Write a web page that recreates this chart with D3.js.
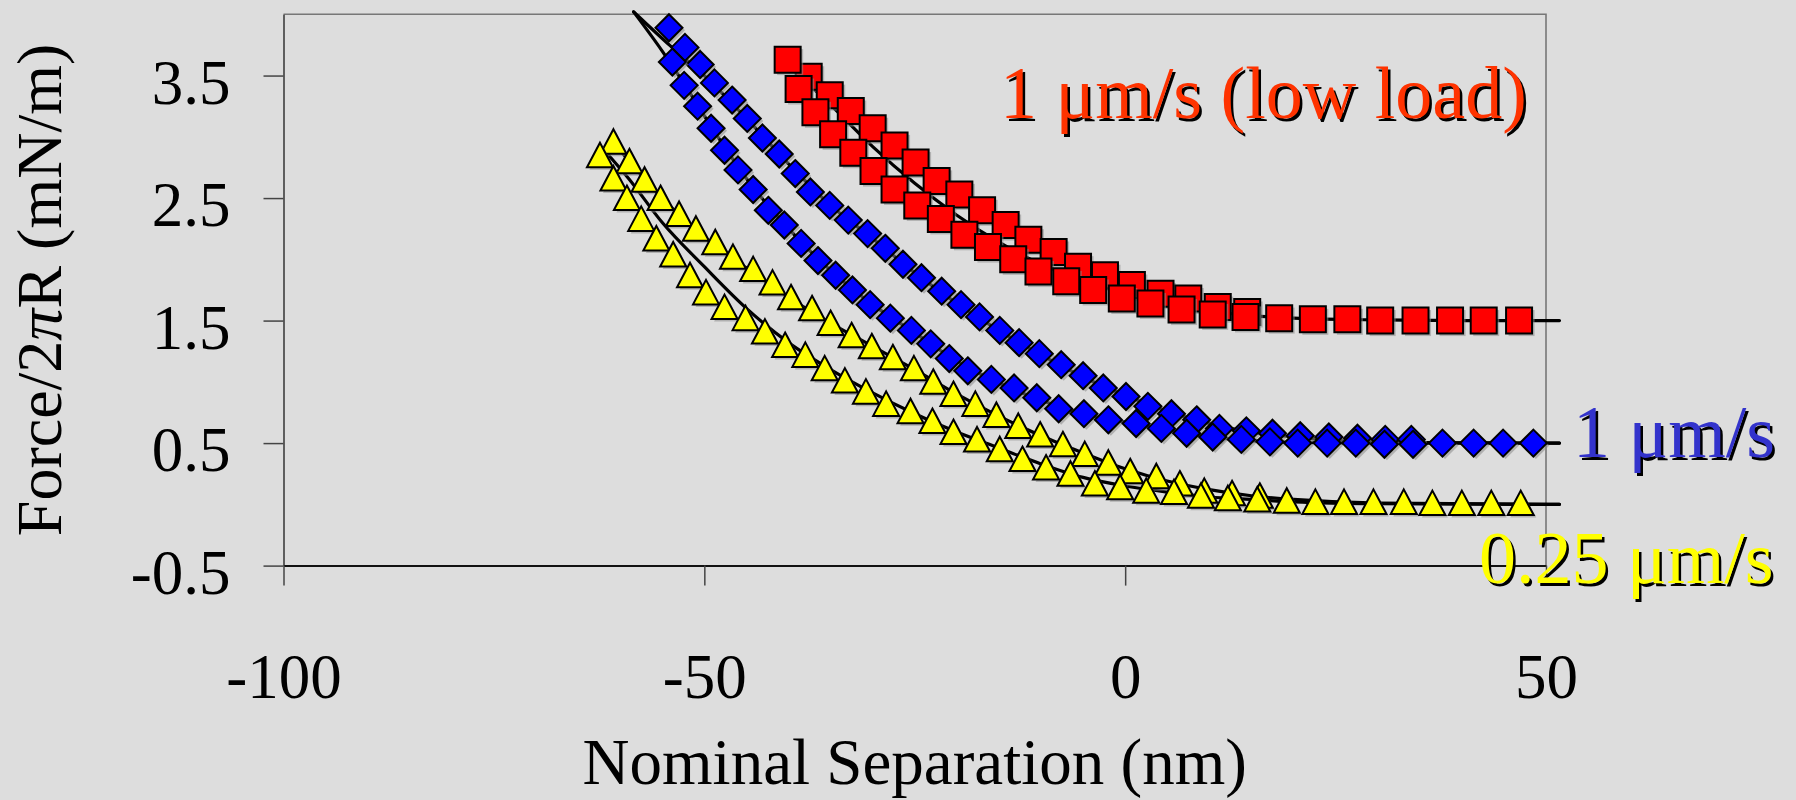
<!DOCTYPE html>
<html>
<head>
<meta charset="utf-8">
<script src="https://cdn.jsdelivr.net/npm/d3@7"></script>
<style>
  html, body { margin: 0; padding: 0; background: #dddddd; }
  svg { display: block; }
</style>
</head>
<body>
<svg id="chart" width="1796" height="800"></svg>
<script>
// ---- axis ticks ----
const xTicks = [-100, -50, 0, 50];
const yTicks = [-0.5, 0.5, 1.5, 2.5, 3.5];
const xTickLabels = ["-100", "-50", "0", "50"];
const yTickLabels = ["-0.5", "0.5", "1.5", "2.5", "3.5"];

// ---- 1 um/s (low load): red squares, two passes [separation nm, F/2piR mN/m] ----
const redPassA = [
  [-37.6,3.49],[-35.1,3.34],[-32.6,3.21],[-30.0,3.07],[-27.4,2.93],[-24.9,2.79],
  [-22.4,2.64],[-19.7,2.53],[-17.0,2.40],[-14.2,2.28],[-11.5,2.16],[-8.5,2.06],
  [-5.6,1.94],[-2.4,1.87],[0.8,1.79],[4.2,1.72],[7.5,1.68],[11.0,1.61],[14.5,1.57]
];
const redPassB = [
  [-40.1,3.63],[-38.8,3.39],[-36.8,3.20],[-34.7,3.02],[-32.3,2.87],[-29.9,2.72],
  [-27.4,2.57],[-24.7,2.44],[-21.9,2.33],[-19.1,2.20],[-16.3,2.10],[-13.3,2.00],
  [-10.3,1.90],[-7.0,1.82],[-3.8,1.75],[-0.4,1.68],[3.0,1.64],[6.7,1.59],
  [10.4,1.55],[14.3,1.53],[18.3,1.52],[22.3,1.51],[26.4,1.51],[30.3,1.50],
  [34.5,1.50],[38.6,1.50],[42.6,1.50],[46.8,1.50]
];
const redFit = [
  [-40.5,3.62],[-35,3.26],[-30,2.92],[-25,2.62],[-20,2.36],[-15,2.14],[-10,1.96],
  [-5,1.83],[0,1.72],[5,1.64],[10,1.58],[15,1.54],[20,1.52],[30,1.505],[40,1.50],[51.6,1.50]
];

// ---- 1 um/s: blue diamonds, two passes ----
const bluePassA = [
  [-54.2,3.89],[-52.3,3.73],[-50.5,3.59],[-48.8,3.44],[-46.7,3.30],[-44.9,3.15],
  [-43.1,2.99],[-41.1,2.86],[-39.2,2.70],[-37.4,2.55],[-35.1,2.44],[-32.9,2.32],
  [-30.6,2.21],[-28.5,2.09],[-26.4,1.96],[-24.2,1.85],[-21.8,1.74],[-19.5,1.63],
  [-17.3,1.53],[-14.9,1.42],[-12.6,1.32],[-10.2,1.23],[-7.6,1.14],[-5.0,1.05],
  [-2.6,0.95],[0.1,0.88],[2.7,0.80],[5.5,0.74],[8.5,0.69],[11.2,0.62],[14.4,0.60],
  [17.5,0.58],[20.8,0.56],[24.2,0.55],[27.6,0.54],[30.9,0.53],[34.0,0.53]
];
const bluePassB = [
  [-53.8,3.61],[-52.4,3.42],[-50.8,3.25],[-49.2,3.07],[-47.6,2.89],[-46.0,2.73],
  [-44.2,2.57],[-42.4,2.40],[-40.5,2.28],[-38.5,2.13],[-36.5,1.99],[-34.4,1.87],
  [-32.4,1.75],[-30.3,1.63],[-27.9,1.52],[-25.4,1.42],[-23.1,1.31],[-20.9,1.19],
  [-18.7,1.09],[-15.9,1.02],[-13.2,0.95],[-10.5,0.87],[-7.9,0.78],[-4.9,0.74],
  [-2.0,0.69],[1.3,0.66],[4.3,0.62],[7.3,0.58],[10.4,0.55],[13.8,0.53],[17.2,0.51],
  [20.5,0.50],[24.0,0.50],[27.4,0.50],[30.8,0.49],[34.2,0.49],[37.7,0.50],
  [41.4,0.50],[44.9,0.50],[48.5,0.50]
];
const blueFitA = [
  [-58.4,4.02],[-54,3.74],[-50,3.50],[-45,3.15],[-40,2.78],[-35,2.44],[-30,2.17],
  [-25,1.89],[-20,1.64],[-15,1.42],[-10,1.22],[-5,1.04],[0,0.89],[5,0.76],[10,0.66],
  [15,0.59],[20,0.55],[25,0.52],[35,0.505],[51.6,0.50]
];
const blueFitB = [
  [-58.4,4.02],[-55,3.70],[-52,3.39],[-50,3.17],[-45,2.66],[-40,2.25],[-35,1.91],
  [-30,1.63],[-25,1.40],[-20,1.17],[-15,0.99],[-10,0.85],[-5,0.74],[0,0.67],[5,0.61],
  [10,0.55],[15,0.52],[20,0.505],[30,0.50],[51.6,0.50]
];

// ---- 0.25 um/s: yellow triangles, two passes ----
const yellowPassA = [
  [-60.8,2.96],[-58.9,2.80],[-57.1,2.65],[-55.2,2.50],[-53.0,2.37],[-51.0,2.25],
  [-48.7,2.14],[-46.6,2.02],[-44.2,1.92],[-41.9,1.81],[-39.7,1.69],[-37.2,1.60],
  [-35.0,1.48],[-32.5,1.38],[-30.1,1.29],[-27.6,1.20],[-25.1,1.11],[-22.8,1.00],
  [-20.4,0.90],[-17.8,0.82],[-15.3,0.73],[-12.7,0.64],[-10.1,0.57],[-7.4,0.49],
  [-4.8,0.41],[-2.0,0.34],[0.6,0.27],[3.7,0.23],[6.5,0.17],[9.4,0.11],[12.7,0.09],[16.0,0.07]
];
const yellowPassB = [
  [-62.4,2.85],[-60.8,2.66],[-59.2,2.50],[-57.5,2.33],[-55.7,2.17],[-53.7,2.04],
  [-51.7,1.87],[-49.8,1.73],[-47.6,1.61],[-45.1,1.52],[-42.8,1.41],[-40.4,1.30],
  [-38.0,1.22],[-35.7,1.11],[-33.3,1.01],[-30.8,0.92],[-28.4,0.82],[-25.5,0.76],
  [-22.9,0.68],[-20.4,0.59],[-17.6,0.53],[-14.9,0.45],[-12.2,0.37],[-9.4,0.30],
  [-6.5,0.25],[-3.6,0.17],[-0.6,0.14],[2.5,0.11],[5.8,0.10],[9.0,0.07],[12.2,0.05],
  [15.7,0.04],[19.2,0.03],[22.6,0.02],[26.0,0.02],[29.5,0.02],[33.1,0.02],
  [36.5,0.01],[40.0,0.01],[43.5,0.01],[47.0,0.01]
];
const yellowFitA = [
  [-60.5,2.93],[-55,2.50],[-50,2.18],[-45,1.93],[-40,1.69],[-35,1.48],[-30,1.29],
  [-25,1.10],[-20,0.90],[-15,0.72],[-10,0.56],[-5,0.42],[0,0.29],[5,0.19],[10,0.12],
  [15,0.07],[20,0.04],[30,0.01],[51.6,0.0]
];
const yellowFitB = [
  [-61.5,2.86],[-59,2.66],[-55,2.30],[-50,1.94],[-45,1.60],[-40,1.32],[-35,1.10],
  [-30,0.91],[-25,0.74],[-20,0.59],[-15,0.46],[-10,0.33],[-5,0.22],[0,0.15],[5,0.10],
  [10,0.06],[15,0.04],[20,0.02],[30,0.005],[51.6,0.0]
];

// ---- series labels ----
const labelTexts = ["1 \u03bcm/s (low load)", "1 \u03bcm/s", "0.25 \u03bcm/s"];
const labelColors = ["#ff3300", "#3333cc", "#ffff00"];

// ---- layout ----
const svg = d3.select("#chart");
const plot = { left: 283.5, right: 1546, top: 14.3, bottom: 565.6 };
const FONT = "'Liberation Serif', 'Times New Roman', serif";

const x = d3.scaleLinear().domain([-100, 50]).range([plot.left, plot.right]);
const y = d3.scaleLinear().domain([-0.5, 4]).range([plot.bottom, plot.top]);

svg.append("rect").attr("width", 1796).attr("height", 800).attr("fill", "#dddddd");

// plot frame (top & right sides)
svg.append("path")
  .attr("d", `M${plot.left},${plot.top}H${plot.right}V${plot.bottom}`)
  .attr("fill", "none").attr("stroke", "#777").attr("stroke-width", 1.6);

// y axis
const yAxis = d3.axisLeft(y)
  .tickValues(yTicks)
  .tickFormat((d, i) => yTickLabels[i])
  .tickSize(20).tickSizeOuter(0).tickPadding(33);
const gy = svg.append("g").attr("transform", `translate(${plot.left},0)`).call(yAxis);
gy.select(".domain").attr("stroke", "#333").attr("stroke-width", 1.5);
gy.selectAll(".tick line").attr("stroke", "#444").attr("stroke-width", 1.5);
gy.selectAll(".tick text")
  .attr("font-family", FONT).attr("font-size", 63).attr("fill", "#000")
  .attr("dy", "0.44em");

// x axis
const xAxis = d3.axisBottom(x)
  .tickValues(xTicks)
  .tickFormat((d, i) => xTickLabels[i])
  .tickSize(20).tickSizeOuter(0).tickPadding(68);
const gx = svg.append("g").attr("transform", `translate(0,${plot.bottom})`).call(xAxis);
gx.select(".domain").attr("stroke", "#111").attr("stroke-width", 2);
gx.selectAll(".tick line").attr("stroke", "#444").attr("stroke-width", 1.5);
gx.selectAll(".tick text")
  .attr("font-family", FONT).attr("font-size", 63).attr("fill", "#000");

// axis titles
svg.append("text")
  .attr("x", (plot.left + plot.right) / 2).attr("y", 784)
  .attr("text-anchor", "middle")
  .attr("font-family", FONT).attr("font-size", 65).attr("fill", "#000")
  .text("Nominal Separation (nm)");

const yTitle = svg.append("text")
  .attr("transform", `translate(61,${(plot.top + plot.bottom) / 2}) rotate(-90)`)
  .attr("text-anchor", "middle")
  .attr("font-family", FONT).attr("font-size", 64).attr("fill", "#000");
yTitle.append("tspan").text("Force/2");
yTitle.append("tspan").attr("font-style", "italic").text("\u03c0");
yTitle.append("tspan").text("R (mN/m)");

// fitted curves (drawn beneath the markers)
const line = d3.line().x(d => x(d[0])).y(d => y(d[1])).curve(d3.curveMonotoneX);
[redFit, blueFitA, blueFitB, yellowFitA, yellowFitB].forEach(fit => {
  svg.append("path").datum(fit)
    .attr("d", line)
    .attr("fill", "none").attr("stroke", "#000").attr("stroke-width", 3.2)
    .attr("stroke-linejoin", "round").attr("stroke-linecap", "round");
});

// marker shapes
const shapes = {
  square: "M-13,-13H13V13H-13Z",
  diamond: "M0,-13.5L13.5,0L0,13.5L-13.5,0Z",
  triangle: "M0,-12.5L13,12L-13,12Z"
};

function drawMarkers(data, shape, fill) {
  const g = svg.append("g");
  // soft offset shadow
  g.selectAll("path.shadow").data(data).join("path")
    .attr("class", "shadow")
    .attr("d", shapes[shape])
    .attr("transform", d => `translate(${x(d[0]) + 2.5},${y(d[1]) + 2.5})`)
    .attr("fill", "#8a8a8a").attr("opacity", 0.55);
  g.selectAll("path.mark").data(data).join("path")
    .attr("class", "mark")
    .attr("d", shapes[shape])
    .attr("transform", d => `translate(${x(d[0])},${y(d[1])})`)
    .attr("fill", fill).attr("stroke", "#000").attr("stroke-width", 2)
    .attr("stroke-linejoin", "miter");
}

drawMarkers(yellowPassA, "triangle", "#ffff00");
drawMarkers(yellowPassB, "triangle", "#ffff00");
drawMarkers(bluePassA, "diamond", "#0000ff");
drawMarkers(bluePassB, "diamond", "#0000ff");
drawMarkers(redPassA, "square", "#ff0000");
drawMarkers(redPassB, "square", "#ff0000");

// series labels with drop shadow
const labelPos = [
  { x: 1000, y: 118 },
  { x: 1573, y: 457 },
  { x: 1479, y: 583 }
];
labelTexts.forEach((t, i) => {
  svg.append("text")
    .attr("x", labelPos[i].x + 2.5).attr("y", labelPos[i].y + 2.5)
    .attr("font-family", FONT).attr("font-size", 74).attr("fill", "#000")
    .text(t);
  svg.append("text")
    .attr("x", labelPos[i].x).attr("y", labelPos[i].y)
    .attr("font-family", FONT).attr("font-size", 74).attr("fill", labelColors[i])
    .text(t);
});
</script>
</body>
</html>
